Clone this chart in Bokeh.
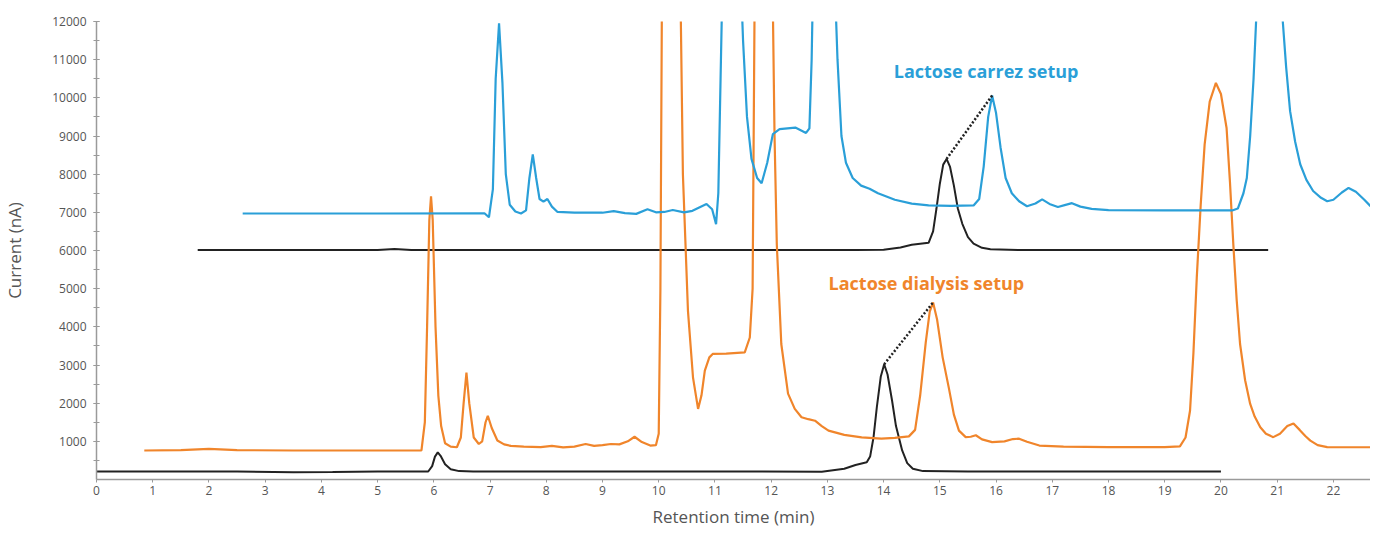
from bokeh.plotting import figure
from bokeh.models import Range1d, Label, FixedTicker
from bokeh.embed import file_html
from bokeh.resources import INLINE

# ---------------- data ----------------
carrez_x = [2.6, 5.0, 6.9, 6.98, 7.05, 7.1, 7.16, 7.22, 7.28, 7.35, 7.45, 7.55, 7.64, 7.7, 7.76, 7.82,
            7.88, 7.95, 8.02, 8.1, 8.2, 8.5, 9.0, 9.2, 9.4, 9.6, 9.8, 9.95, 10.1, 10.25, 10.45, 10.6,
            10.85, 10.95, 11.02, 11.06, 11.1, 11.14, 11.45, 11.5, 11.57, 11.65, 11.75, 11.83, 11.93,
            12.03, 12.15, 12.43, 12.62, 12.68, 12.72, 12.75, 13.12, 13.18, 13.25, 13.33, 13.45, 13.6,
            13.75, 13.9, 14.2, 14.5, 14.8, 15.2, 15.6, 15.7, 15.78, 15.86, 15.93, 16.0, 16.08, 16.17,
            16.28, 16.41, 16.55, 16.7, 16.82, 16.95, 17.1, 17.22, 17.35, 17.5, 17.7, 18.0, 19.0, 20.2,
            20.3, 20.4, 20.46, 20.52, 20.58, 20.64, 20.68, 21.05, 21.1, 21.16, 21.23, 21.32, 21.41,
            21.52, 21.64, 21.78, 21.89, 22.0, 22.15, 22.27, 22.4, 22.55, 22.66]
carrez_y = [6970, 6970, 6975, 6870, 7600, 10500, 11950, 10400, 8000, 7200, 7020, 6970, 7050, 7900, 8520, 7900,
            7350, 7280, 7350, 7150, 7010, 6990, 6990, 7030, 6980, 6960, 7080, 7000, 7010, 7060, 7000, 7040,
            7220, 7080, 6690, 7500, 10500, 13500, 13500, 11500, 9500, 8400, 7900, 7760, 8300,
            9050, 9180, 9220, 9080, 9200, 11000, 13500, 13500, 11000, 9000, 8300, 7900, 7700,
            7620, 7500, 7330, 7230, 7180, 7170, 7180, 7350, 8200, 9500, 10060, 9600, 8700, 7900,
            7500, 7290, 7160, 7230, 7340, 7220, 7140, 7190, 7240, 7150, 7090, 7060, 7050, 7050,
            7100, 7500, 7900, 9000, 10500, 12500, 13500, 13500, 12000, 10800, 9650, 8850, 8260,
            7850, 7560, 7380, 7290, 7330, 7520, 7640, 7540, 7330, 7160]

dialysis_x = [0.85, 1.5, 2.0, 2.5, 3.5, 5.0, 5.78, 5.84, 5.88, 5.92, 5.95, 5.98, 6.03, 6.08, 6.13, 6.2,
              6.3, 6.41, 6.48, 6.53, 6.58, 6.63, 6.71, 6.8, 6.86, 6.92, 6.96, 7.03, 7.13, 7.25, 7.37,
              7.6, 7.9, 8.1, 8.3, 8.5, 8.7, 8.85, 9.0, 9.15, 9.3, 9.45, 9.57, 9.7, 9.85, 9.95, 10.0,
              10.03, 10.06, 10.38, 10.43, 10.52, 10.61, 10.7, 10.76, 10.82, 10.9, 10.96, 11.2, 11.53,
              11.62, 11.67, 11.71, 12.02, 12.06, 12.1, 12.18, 12.3, 12.42, 12.54, 12.66, 12.78, 12.9,
              13.02, 13.3, 13.61, 13.96, 14.2, 14.45, 14.56, 14.65, 14.75, 14.82, 14.88, 14.95, 15.05,
              15.16, 15.25, 15.34, 15.46, 15.55, 15.64, 15.75, 15.93, 16.15, 16.3, 16.41, 16.55, 16.77,
              17.2, 18.0, 19.0, 19.27, 19.37, 19.45, 19.51, 19.57, 19.64, 19.71, 19.8, 19.91, 20.0,
              20.1, 20.16, 20.22, 20.28, 20.34, 20.43, 20.52, 20.6, 20.7, 20.8, 20.93, 21.05, 21.18,
              21.29, 21.4, 21.5, 21.59, 21.72, 21.89, 22.2, 22.66]
dialysis_y = [760, 770, 800, 770, 760, 760, 760, 1500, 4000, 6800, 7420, 6800, 4000, 2200, 1400, 950,
              860, 845, 1100, 2000, 2800, 2000, 1100, 930, 1000, 1500, 1670, 1350, 1020, 920, 880,
              860, 850, 880, 840, 860, 930, 880, 900, 930, 920, 1000, 1120, 980, 890, 900, 1200,
              5000, 13500, 13500, 8000, 4420, 2670, 1850, 2200, 2850, 3200, 3290, 3300, 3330,
              3720, 5000, 13500, 13500, 9000, 6170, 3550, 2250, 1850, 1630, 1580, 1540, 1400,
              1280, 1170, 1105, 1070, 1090, 1130, 1300, 2200, 3600, 4400, 4640, 4200, 3200,
              2400, 1700, 1280, 1110, 1120, 1160, 1050, 980, 1000, 1060, 1070, 990, 890,
              860, 850, 850, 870, 1100, 1800, 3300, 5290, 7200, 8780, 9900, 10390, 10100,
              9210, 7800, 6160, 4700, 3550, 2600, 1980, 1650, 1370, 1200, 1110, 1200, 1400,
              1470, 1300, 1140, 1020, 900, 850, 845, 845]

std_high_x = [1.8, 5.0, 5.3, 5.6, 10.0, 13.5, 14.0, 14.3, 14.5, 14.8, 14.88, 14.94, 15.0, 15.06, 15.12,
              15.18, 15.25, 15.32, 15.4, 15.5, 15.6, 15.75, 15.9, 16.5, 20.84]
std_high_y = [6010, 6010, 6040, 6010, 6010, 6010, 6020, 6080, 6150, 6200, 6500, 7100, 7750, 8250, 8400,
              8200, 7700, 7100, 6700, 6350, 6180, 6070, 6030, 6010, 6010]

std_low_x = [0.0, 2.5, 3.5, 4.2, 5.0, 5.9, 5.97, 6.02, 6.07, 6.12, 6.2, 6.3, 6.45, 6.7, 10.0, 12.9, 13.3,
             13.5, 13.7, 13.76, 13.82, 13.88, 13.95, 14.01, 14.07, 14.15, 14.22, 14.33, 14.42, 14.52,
             14.7, 15.5, 20.0]
std_low_y = [210, 210, 190, 195, 210, 210, 350, 600, 710, 620, 400, 270, 220, 210, 210, 205, 280,
             380, 450, 600, 1100, 1900, 2700, 3020, 2750, 2070, 1400, 760, 430, 280,
             220, 210, 210]

link_carrez_x = [15.12, 15.93]
link_carrez_y = [8400, 10060]
link_dialysis_x = [14.01, 14.88]
link_dialysis_y = [3020, 4640]

x_ticks = list(range(0, 23))
y_ticks = [1000, 2000, 3000, 4000, 5000, 6000, 7000, 8000, 9000, 10000, 11000, 12000]
y_minor = [500 * i for i in range(1, 25)]

label_carrez = "Lactose  carrez setup"
label_dialysis = "Lactose  dialysis setup"

BLUE = "#2a9fd8"
ORANGE = "#f0852b"
BLACK = "#222222"
FONT = "Open Sans"

# ---------------- figure ----------------
p = figure(width=1370, height=530, output_backend="svg", toolbar_location=None,
           x_range=Range1d(0, 22.66), y_range=Range1d(0, 12000),
           min_border_left=95, min_border_right=0, min_border_top=21, min_border_bottom=50)
p.outline_line_color = None
p.grid.visible = False
p.background_fill_color = "white"
p.border_fill_color = "white"

p.line(std_low_x, std_low_y, line_color=BLACK, line_width=2)
p.line(std_high_x, std_high_y, line_color=BLACK, line_width=2)
p.line(dialysis_x, dialysis_y, line_color=ORANGE, line_width=2.2)
p.line(carrez_x, carrez_y, line_color=BLUE, line_width=2.2)
p.line(link_carrez_x, link_carrez_y, line_color=BLACK, line_width=2.5, line_dash="2 2")
p.line(link_dialysis_x, link_dialysis_y, line_color=BLACK, line_width=2.5, line_dash="2 2")

p.add_layout(Label(x=14.18, y=10690, text=label_carrez, text_color=BLUE, text_font=FONT,
                   text_font_size="18px", text_font_style="bold", text_baseline="middle"))
p.add_layout(Label(x=13.02, y=5150, text=label_dialysis, text_color=ORANGE, text_font=FONT,
                   text_font_size="18px", text_font_style="bold", text_baseline="middle"))

# axes
xa = p.xaxis[0]
xa.ticker = FixedTicker(ticks=x_ticks)
xa.axis_label = "Retention time (min)"
ya = p.yaxis[0]
ya.ticker = FixedTicker(ticks=y_ticks, minor_ticks=y_minor)
ya.axis_label = "Current (nA)"

for ax in (xa, ya):
    ax.axis_line_color = "#9a9a9a"
    ax.axis_line_width = 1.5
    ax.major_tick_line_color = "#9a9a9a"
    ax.minor_tick_line_color = "#9a9a9a"
    ax.major_label_text_font = FONT
    ax.major_label_text_font_size = "12px"
    ax.major_label_text_color = "#555555"
    ax.axis_label_text_font = FONT
    ax.axis_label_text_font_size = "17px"
    ax.axis_label_text_font_style = "normal"
    ax.axis_label_text_color = "#555555"

xa.major_tick_in = 0
xa.major_tick_out = 3
xa.minor_tick_in = 0
xa.minor_tick_out = 0
xa.major_label_standoff = 3
xa.axis_label_standoff = 7

ya.major_tick_in = 3
ya.major_tick_out = 3
ya.minor_tick_in = 3
ya.minor_tick_out = 3
ya.major_label_standoff = 7
ya.axis_label_standoff = 23

open("out.html", "w").write(file_html(p, INLINE))
